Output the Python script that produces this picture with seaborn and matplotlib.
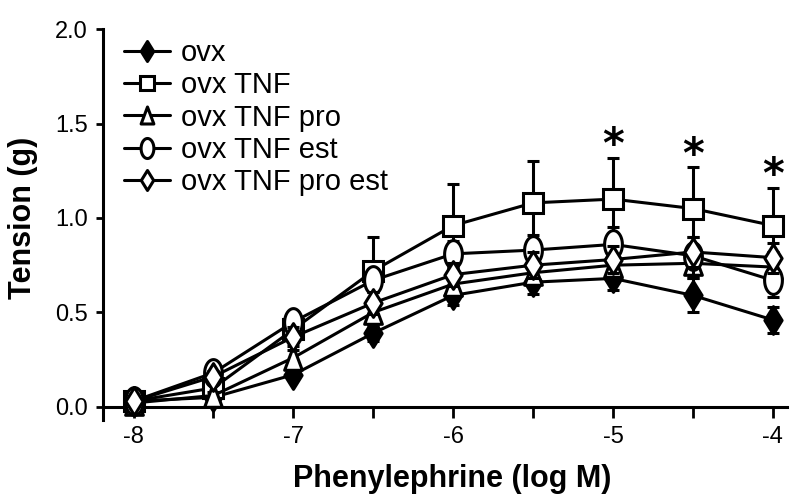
import numpy as np
import pandas as pd
import matplotlib
matplotlib.use("Agg")
import matplotlib.pyplot as plt
from matplotlib.path import Path
import seaborn as sns

# concentrations (log M)
conc = [-8, -7.5, -7, -6.5, -6, -5.5, -5, -4.5, -4]

groups = ["ovx", "ovx TNF", "ovx TNF pro", "ovx TNF est", "ovx TNF pro est"]
ovx = [0.03, 0.05, 0.17, 0.39, 0.59, 0.66, 0.68, 0.59, 0.46]
ovx_tnf = [0.03, 0.10, 0.41, 0.72, 0.96, 1.08, 1.10, 1.05, 0.96]
ovx_tnf_pro = [0.02, 0.06, 0.26, 0.50, 0.65, 0.71, 0.75, 0.76, 0.74]
ovx_tnf_est = [0.03, 0.18, 0.45, 0.67, 0.81, 0.83, 0.86, 0.80, 0.67]
ovx_tnf_pro_est = [0.03, 0.16, 0.37, 0.55, 0.70, 0.75, 0.78, 0.82, 0.79]

# SEM
err_ovx = [0.01, 0.02, 0.03, 0.04, 0.05, 0.06, 0.06, 0.09, 0.07]
err_tnf = [0.01, 0.03, 0.06, 0.18, 0.22, 0.22, 0.22, 0.22, 0.20]
err_pro = [0.01, 0.02, 0.04, 0.06, 0.06, 0.07, 0.07, 0.08, 0.08]
err_est = [0.01, 0.03, 0.05, 0.06, 0.07, 0.08, 0.09, 0.10, 0.09]
err_pro_est = [0.01, 0.03, 0.05, 0.06, 0.06, 0.07, 0.07, 0.08, 0.08]

# significance (ovx TNF vs others)
sig_conc = [-5, -4.5, -4]

xtick_labels = ["-8", "", "-7", "", "-6", "", "-5", "", "-4"]
ytick_labels = ["0.0", "0.5", "1.0", "1.5", "2.0"]

values = [ovx, ovx_tnf, ovx_tnf_pro, ovx_tnf_est, ovx_tnf_pro_est]
errors = [err_ovx, err_tnf, err_pro, err_est, err_pro_est]

# tall marker shapes like the original
t = np.linspace(0, 2 * np.pi, 60)
ellipse = Path(np.column_stack([0.64 * np.cos(t), np.sin(t)]), closed=True)
diamond = Path([(0, 1), (0.62, 0), (0, -1), (-0.62, 0), (0, 1)], closed=True)
triangle = Path([(0, 1), (0.75, -1), (-0.75, -1), (0, 1)], closed=True)

styles = [
    dict(marker=diamond, ms=20, mfc="black"),
    dict(marker="s", ms=14.5, mfc="white"),
    dict(marker=triangle, ms=17, mfc="white"),
    dict(marker=ellipse, ms=20, mfc="white"),
    dict(marker=diamond, ms=20, mfc="white"),
]

sns.set_style("ticks")
plt.rcParams["font.family"] = ["Liberation Sans", "DejaVu Sans"]
plt.rcParams["text.color"] = "black"
plt.rcParams["axes.labelcolor"] = "black"

fig = plt.figure(figsize=(8, 5.03), dpi=100)
ax = fig.add_axes([0.129, 0.165, 0.855, 0.777])

for i, (name, vals, err, st) in enumerate(zip(groups, values, errors, styles)):
    df = pd.DataFrame({"conc": conc, "tension": vals})
    ax.errorbar(conc, vals, yerr=err, fmt="none", ecolor="black",
                elinewidth=2.2, capsize=4.5, capthick=2.2, zorder=2 + i)
    sns.lineplot(data=df, x="conc", y="tension", ax=ax, color="black",
                 lw=2.2, marker=st["marker"], markersize=st["ms"],
                 markerfacecolor=st["mfc"], markeredgecolor="black",
                 markeredgewidth=2.2, label=name, zorder=2.5 + i,
                 clip_on=False)

# asterisks above the ovx TNF bars
for c in sig_conc:
    k = conc.index(c)
    ax.text(c, ovx_tnf[k] + err_tnf[k] + 0.06, "*", ha="center", va="center",
            fontsize=30, fontweight="bold", family="DejaVu Sans", color="black")

ax.set_xlim(-8.19, -3.91)
ax.set_ylim(-0.07, 2.0)
ax.spines["bottom"].set_position(("data", 0))
ax.spines["top"].set_visible(False)
ax.spines["right"].set_visible(False)
for s in ["left", "bottom"]:
    ax.spines[s].set_linewidth(2.2)
    ax.spines[s].set_color("black")

ax.set_xticks(conc)
ax.set_xticklabels(xtick_labels)
ax.set_yticks([0, 0.5, 1.0, 1.5, 2.0])
ax.set_yticklabels(ytick_labels)
ax.tick_params(axis="x", length=8, width=2, pad=6, labelsize=17,
               color="black", labelcolor="black")
ax.tick_params(axis="y", length=5, width=2, pad=6, labelsize=17,
               color="black", labelcolor="black")

ax.set_xlabel("Phenylephrine (log M)", fontsize=22, fontweight="bold")
ax.set_ylabel("Tension (g)", fontsize=22, fontweight="bold")
ax.xaxis.set_label_coords(0.51, -0.113)
ax.yaxis.set_label_coords(-0.095, 0.517)

leg = ax.legend(loc="upper left", bbox_to_anchor=(0.03, 0.975), frameon=False,
                fontsize=21, markerscale=0.72, handlelength=1.6,
                handletextpad=0.35, labelspacing=0.15, borderpad=0,
                borderaxespad=0)
for txt in leg.get_texts():
    txt.set_color("black")

fig.savefig("out.png", dpi=100)
